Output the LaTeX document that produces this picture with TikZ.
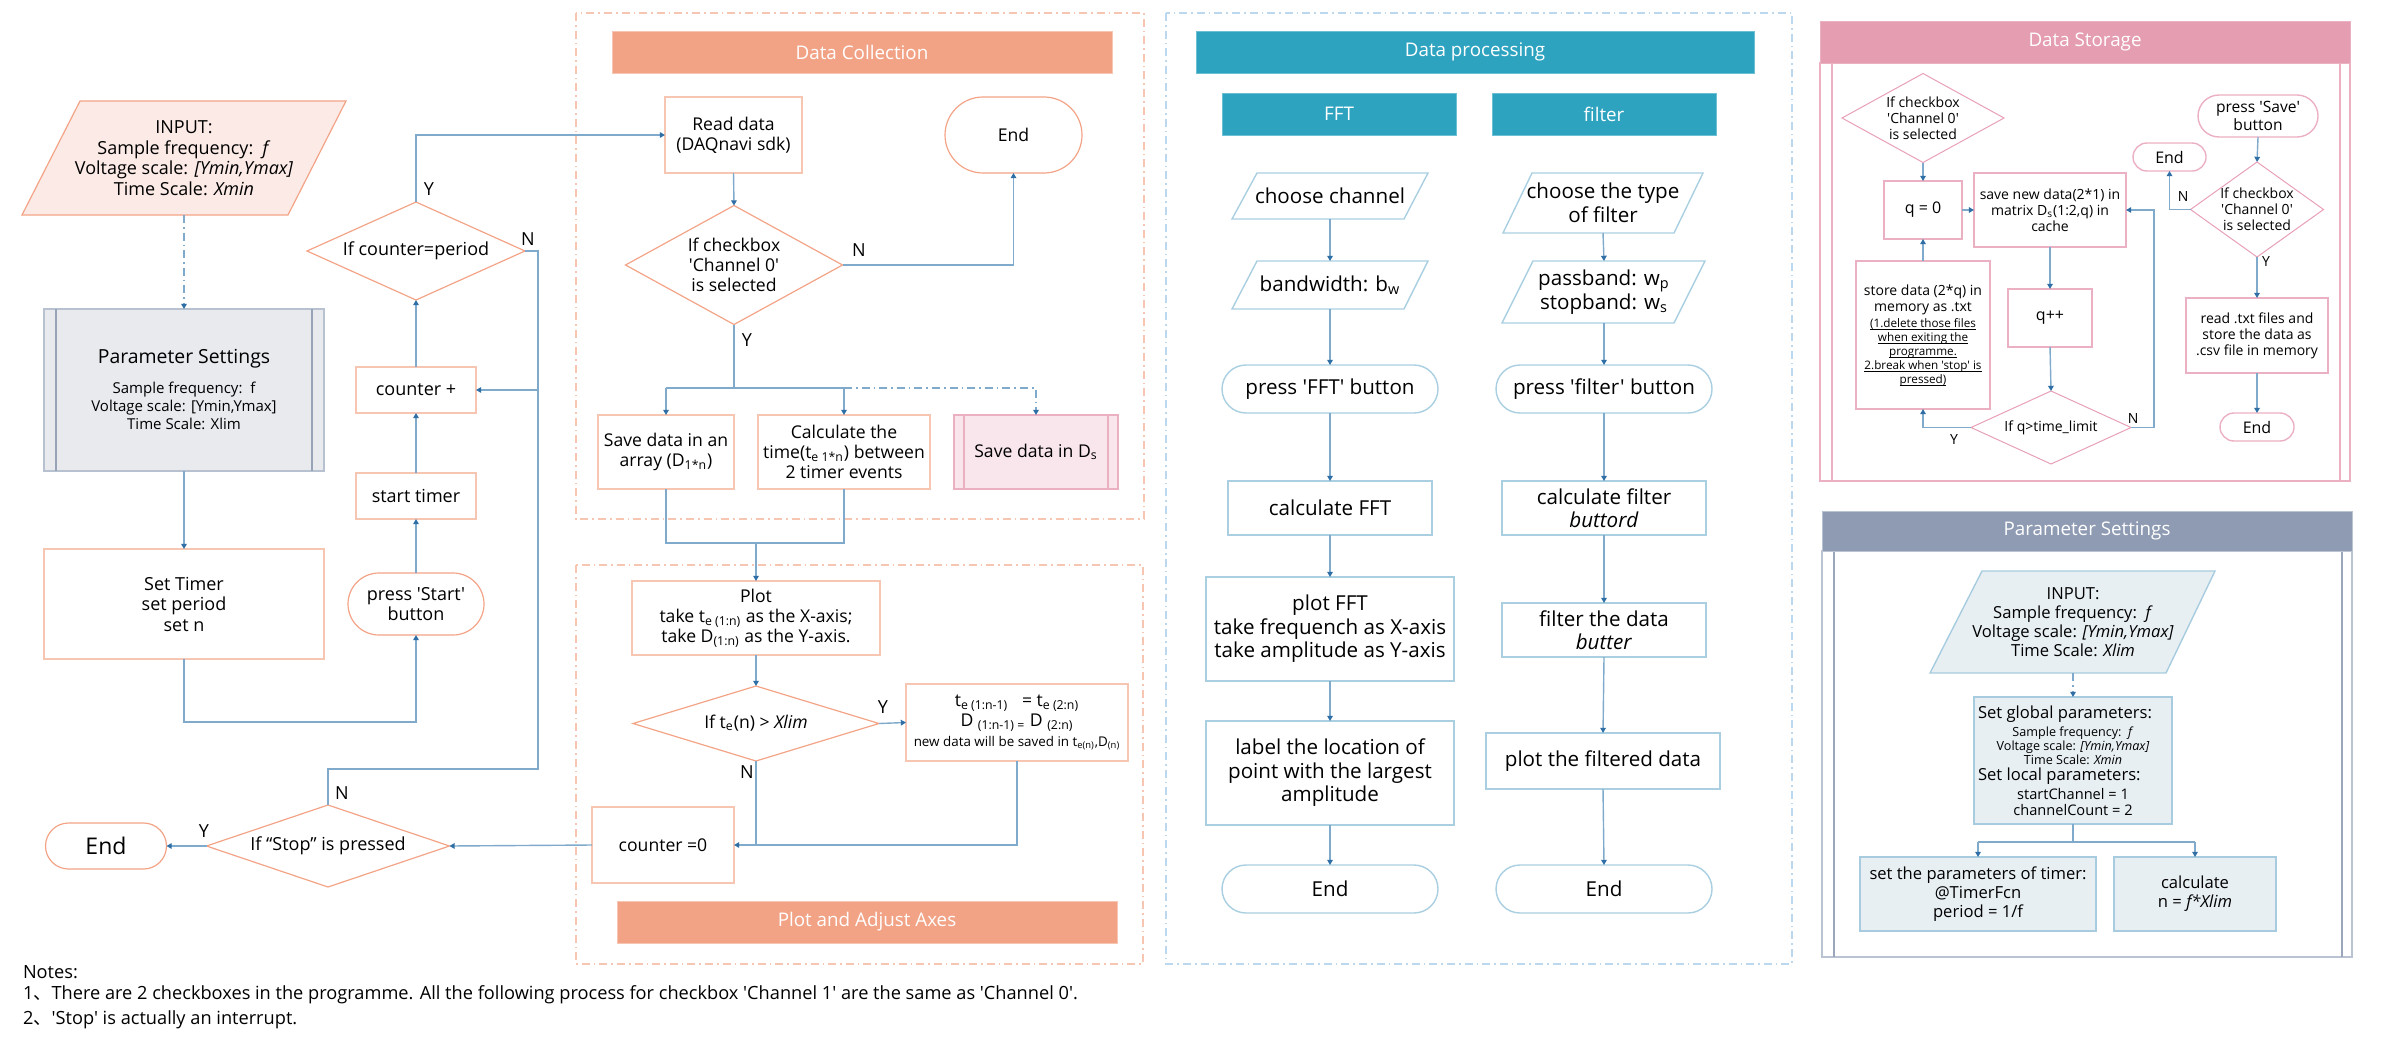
\documentclass[tikz,border=0pt]{standalone}
\usepackage{fontspec}
\setmainfont{Open Sans}[Ligatures=TeXOff]
\newfontfamily\cjk{Noto Sans CJK SC}
\usetikzlibrary{shapes.geometric,shapes.misc,arrows.meta,calc}
\definecolor{cl}{HTML}{7FAACB}
\definecolor{ca}{HTML}{2F6FA6}
\definecolor{pk}{HTML}{F6C6B3}
\definecolor{pkd}{HTML}{F3A487}
\definecolor{pkf}{HTML}{FBEAE5}
\definecolor{dcH}{HTML}{F2A386}
\definecolor{gyf}{HTML}{E8EAEE}
\definecolor{gyb}{HTML}{B8C1CF}
\definecolor{gyl}{HTML}{97A4B8}
\definecolor{blH}{HTML}{2EA3C0}
\definecolor{blHb}{HTML}{6DBFD4}
\definecolor{blb}{HTML}{A9CFE1}
\definecolor{blfr}{HTML}{BBD8EE}
\definecolor{dsH}{HTML}{E59DB1}
\definecolor{dsb}{HTML}{ECB0C3}
\definecolor{dsd}{HTML}{E8A0B6}
\definecolor{dsf}{HTML}{F9E6EC}
\definecolor{rpH}{HTML}{8E9BB3}
\definecolor{rpb}{HTML}{BAC3D1}
\definecolor{rpl}{HTML}{9AA6BA}
\definecolor{rpf}{HTML}{E7EFF3}
\definecolor{rpbd}{HTML}{A7CCDF}
\newcommand{\fA}{\fontsize{9}{10.25}\selectfont}
\newcommand{\fEnd}{\fontsize{11.5}{13}\selectfont}
\newcommand{\fDC}{\fontsize{8.8}{10}\selectfont}
\newcommand{\fTs}{\fontsize{6.7}{8}\selectfont}
\newcommand{\fDP}{\fontsize{10.3}{11.75}\selectfont}
\newcommand{\fDS}{\fontsize{7}{8}\selectfont}
\newcommand{\fDSs}{\fontsize{5.85}{7}\selectfont\lineskiplimit=-20pt\relax}
\newcommand{\fPS}{\fontsize{8.3}{9.4}\selectfont}
\newcommand{\fPSm}{\fontsize{7.3}{8}\selectfont}
\newcommand{\fPSs}{\fontsize{6.3}{7}\selectfont}
\newcommand{\fSm}{\fontsize{7.5}{9}\selectfont}
\newcommand{\fH}{\fontsize{9.4}{11}\selectfont}
\newcommand{\fN}{\fontsize{9.1}{11}\selectfont}
\newcommand{\ulin}[1]{\setbox0\hbox{#1}\rlap{\rule[-1.1pt]{\wd0}{0.3pt}}\box0}
\tikzset{
  sz/.style 2 args={minimum width=#1*0.5pt,minimum height=#2*0.5pt},
  conn/.style={draw=cl,line width=0.7pt},
  arr/.style={conn,-{Triangle[length=2.6pt,width=2.8pt,color=ca]}},
  dd/.style={dash pattern=on 4pt off 2pt on 0.8pt off 2pt},
  txt/.style={inner sep=0pt,outer sep=0pt,align=center,text=black},
  pbox/.style={rectangle,draw=pk,line width=0.85pt,fill=white,inner sep=0pt,outer sep=0pt,align=center},
  pround/.style={rounded rectangle,draw=pkd,line width=0.6pt,fill=white,inner sep=0pt,outer sep=0pt,align=center},
  dia/.style={diamond,draw=pkd,line width=0.6pt,fill=white,inner sep=0pt,outer sep=0pt},
  hdr/.style={rectangle,inner sep=0pt,outer sep=0pt,text=white,font=\fH},
  dpbox/.style={rectangle,draw=blb,line width=0.7pt,fill=white,inner sep=0pt,outer sep=0pt,align=center,font=\fDP},
  dpround/.style={rounded rectangle,draw=blb,line width=0.7pt,fill=white,inner sep=0pt,outer sep=0pt,align=center,font=\fDP},
  dsbox/.style={rectangle,draw=dsb,line width=0.7pt,fill=white,inner sep=0pt,outer sep=0pt,align=center,font=\fDS},
  dsround/.style={rounded rectangle,draw=dsb,line width=0.7pt,fill=white,inner sep=0pt,outer sep=0pt,align=center,font=\fDS},
  dsdia/.style={diamond,draw=dsd,line width=0.5pt,fill=white,inner sep=0pt,outer sep=0pt},
  rpbox/.style={rectangle,draw=rpbd,line width=0.7pt,fill=rpf,inner sep=0pt,outer sep=0pt,align=center,font=\fPS},
  lab/.style={txt,font=\fA},
  labs/.style={txt,font=\fDS},
}
\begin{document}
\begin{tikzpicture}[x=0.5pt,y=-0.5pt]
\useasboundingbox (0,0) rectangle (2385,1038);
% ---------- frames ----------
\draw[pk,dd,line width=0.8pt] (576,13) rectangle (1144,519);
\draw[pk,dd,line width=0.8pt] (576,565) rectangle (1143,964);
\draw[blfr,dd,line width=0.8pt] (1166,13) rectangle (1792,964);
\draw[dsb,line width=0.9pt] (1820,63) rectangle (2350,481);
\draw[dsb,line width=0.9pt] (1832,63) -- (1832,481) (2340,63) -- (2340,481);
\draw[rpb,line width=0.9pt] (1822,551) rectangle (2352,957);
\draw[rpl,line width=0.9pt] (1834,551) -- (1834,957) (2342,551) -- (2342,957);
% ---------- headers ----------
\node[hdr,fill=dcH,draw=pk,sz={500}{42}] (hdc) at (862,52) {Data Collection};
\node[hdr,fill=dcH,draw=pk,sz={500}{42}] (hpa) at (867,922) {Plot and Adjust Axes};
\node[hdr,fill=blH,draw=blHb,sz={558}{42}] (hdp) at (1475,52) {Data processing};
\node[hdr,fill=blH,draw=blHb,sz={234}{42}] (hfft) at (1339,114) {FFT};
\node[hdr,fill=blH,draw=blHb,sz={224}{42}] (hfil) at (1604,114) {filter};
\node[hdr,fill=dsH,draw=dsb,sz={530}{42}] (hds) at (2085,42) {Data Storage};
\node[hdr,fill=rpH,draw=rpb,sz={530}{40}] (hrp) at (2087,531) {Parameter Settings};
% ---------- left column ----------
\filldraw[fill=pkf,draw=pkd,line width=0.6pt] (80,101) -- (346,101) -- (288,215) -- (22,215) -- cycle;
\node[txt,font=\fA,sz={200}{114}] (in1) at (184,158) {INPUT:\\Sample frequency:\ \ \textit{f}\\Voltage scale: \textit{[Ymin,Ymax]}\\Time Scale: \textit{Xmin}};
\node[rectangle,draw=gyb,fill=gyf,line width=0.9pt,inner sep=0pt,outer sep=0pt,sz={280}{162}] (ps1) at (184,390) {};
\draw[gyl,line width=0.9pt] ($(ps1.north west)+(12,0)$) -- ($(ps1.south west)+(12,0)$);
\draw[gyl,line width=0.9pt] ($(ps1.north east)+(-12,0)$) -- ($(ps1.south east)+(-12,0)$);
\node[txt,font=\fontsize{9.7}{11}\selectfont] (ps1t) at (184,359) {Parameter Settings};
\node[txt,font=\fSm] (ps1s) at (184,406) {Sample frequency:\ \ f\\Voltage scale: [Ymin,Ymax]\\Time Scale: Xlim};
\node[pbox,sz={280}{110},font=\fA] (st) at (184,604) {Set Timer\\set period\\set n};
\node[pround,sz={136}{62},font=\fA] (pstart) at (416,604) {press 'Start'\\button};
\node[pbox,sz={120}{46},font=\fA] (stimer) at (416,496) {start timer};
\node[pbox,sz={120}{46},font=\fA] (cplus) at (416,390) {counter +};
\node[dia,sz={218}{98}] (dcp) at (416,251) {};
\node[txt,font=\fA] (dcpt) at (dcp) {If counter=period};
\node[dia,sz={243}{82}] (dstop) at (328,846) {};
\node[txt,font=\fA] (dstopt) at (dstop) {If “Stop” is pressed};
\node[pround,sz={121}{46},font=\fEnd] (end1) at (106,846) {End};
% ---------- data collection ----------
\node[pbox,sz={137}{76},font=\fDC] (rd) at (733.5,135) {Read data\\(DAQnavi sdk)};
\node[pround,sz={137}{76},font=\fDC] (enddc) at (1013.5,135) {End};
\node[dia,sz={217}{119}] (dck) at (734,265) {};
\node[txt,font=\fDC] (dckt) at (dck) {If checkbox\\'Channel 0'\\is selected};
\node[pbox,sz={136}{74},font=\fDC] (sd) at (666,452) {Save data in an\\array (D\textsubscript{1*n})};
\node[pbox,sz={172}{74},font=\fDC] (ct) at (844,452) {Calculate the\\time(t\textsubscript{e 1*n}) between\\2 timer events};
\node[rectangle,draw=dsb,fill=dsf,line width=0.85pt,inner sep=0pt,outer sep=0pt,sz={164}{74},font=\fDC] (sds) at (1036,452) {Save data in D\textsubscript{s}};
\draw[dsb,line width=0.85pt] ($(sds.north west)+(10,0)$) -- ($(sds.south west)+(10,0)$);
\draw[dsb,line width=0.85pt] ($(sds.north east)+(-10,0)$) -- ($(sds.south east)+(-10,0)$);
% ---------- plot ----------
\node[pbox,sz={248}{74},font=\fDC] (pl) at (756,618) {Plot\\take t\textsubscript{e (1:n)} as the X-axis;\\take D\textsubscript{(1:n)} as the Y-axis.};
\node[dia,sz={246}{75}] (dx) at (756,723.5) {};
\node[txt,font=\fDC] (dxt) at (dx) {If t\textsubscript{e}(n) > \textit{Xlim}};
\node[pbox,sz={222}{77},font=\fDC] (te) at (1017,722.5) {t\textsubscript{e (1:n-1)}\ \ \ = t\textsubscript{e (2:n)}\\D \textsubscript{(1:n-1) =} D \textsubscript{(2:n)}\\{\fTs new data will be saved in t\textsubscript{e(n)},D\textsubscript{(n)}}};
\node[pbox,sz={142}{76},font=\fDC] (cz) at (663,845) {counter =0};
% ---------- data processing ----------
\draw[blb,line width=0.7pt] (1257,173) -- (1428,173) -- (1404,219) -- (1232,219) -- cycle;
\node[txt,font=\fDP,sz={150}{46}] (cc) at (1330,196) {choose channel};
\draw[blb,line width=0.7pt] (1257,261) -- (1428,261) -- (1404,309) -- (1232,309) -- cycle;
\node[txt,font=\fDP,sz={150}{48}] (bw) at (1330,285) {bandwidth: b\textsubscript{w}};
\node[dpround,sz={216}{48}] (pfft) at (1330,389) {press 'FFT' button};
\node[dpbox,sz={204}{54}] (cfft) at (1330,508) {calculate FFT};
\node[dpbox,sz={248}{104}] (plfft) at (1330,629) {plot FFT\\take frequench as X-axis\\take amplitude as Y-axis};
\node[dpbox,sz={248}{104}] (labl) at (1330,773) {label the location of\\point with the largest\\amplitude};
\node[dpround,sz={216}{48}] (end2) at (1330,889) {End};
\draw[blb,line width=0.7pt] (1532,173) -- (1703,173) -- (1674,233) -- (1503,233) -- cycle;
\node[txt,font=\fDP,sz={160}{60}] (ctf) at (1603,203) {choose the type\\of filter};
\draw[blb,line width=0.7pt] (1533,261) -- (1705,261) -- (1674,323) -- (1502,323) -- cycle;
\node[txt,font=\fDP,sz={160}{62}] (pb) at (1604,292) {passband: w\textsubscript{p}\\stopband: w\textsubscript{s}};
\node[dpround,sz={216}{48}] (pfil) at (1604,389) {press 'filter' button};
\node[dpbox,sz={204}{54}] (cfil) at (1604,508) {calculate filter\\\textit{buttord}};
\node[dpbox,sz={204}{54}] (fd) at (1604,630) {filter the data\\\textit{butter}};
\node[dpbox,sz={234}{56}] (pfd) at (1603,761) {plot the filtered data};
\node[dpround,sz={216}{48}] (end3) at (1604,889) {End};
% ---------- data storage ----------
\node[dsdia,sz={162}{89}] (dck2) at (1923,118) {};
\node[txt,font=\fDS] (dck2t) at (dck2) {If checkbox\\'Channel 0'\\is selected};
\node[dsbox,sz={78}{58},font=\fontsize{8}{9}\selectfont] (q0) at (1923,210) {q = 0};
\node[dsbox,sz={152}{74}] (sv) at (2050,210) {save new data(2*1) in\\matrix D\textsubscript{s}(1:2,q) in\\cache};
\node[dsbox,sz={84}{58},font=\fontsize{8}{9}\selectfont] (qpp) at (2050,318) {q++};
\node[dsdia,sz={160}{73}] (dtl) at (2051,427.5) {};
\node[txt,font=\fDS] (dtlt) at (dtl) {If q>time\_limit};
\node[dsbox,sz={134}{148}] (stor) at (1923,335) {};
\node[txt,font=\fDS] (stor1) at (1923,300) {store data (2*q) in\\memory as .txt};
\node[txt,font=\fDSs] (stor2) at (1923,352) {\ulin{(1.delete those files}\\\ulin{when exiting the}\\\ulin{programme.}\\\ulin{2.break when 'stop' is}\\\ulin{pressed)}};
\node[dsround,sz={73}{28},font=\fontsize{8}{9}\selectfont] (enda) at (2169.5,157) {End};
\node[dsround,sz={120}{42},font=\fontsize{7.8}{9}\selectfont] (psave) at (2258,116) {press 'Save'\\button};
\node[dsdia,sz={133}{95}] (dck3) at (2257,209.5) {};
\node[txt,font=\fDS] (dck3t) at (dck3) {If checkbox\\'Channel 0'\\is selected};
\node[dsbox,sz={142}{75}] (rdt) at (2257,335.5) {read .txt files and\\store the data as\\.csv file in memory};
\node[dsround,sz={74}{28},font=\fontsize{8}{9}\selectfont] (endb) at (2257,427) {End};
% ---------- right parameter settings ----------
\filldraw[fill=rpf,draw=rpbd,line width=0.7pt] (1982,571) -- (2215,571) -- (2166,673) -- (1930,673) -- cycle;
\node[txt,font=\fPS,sz={200}{102}] (in2) at (2073,622) {INPUT:\\Sample frequency:\ \ \textit{f}\\Voltage scale: \textit{[Ymin,Ymax]}\\Time Scale: \textit{Xlim}};
\node[rpbox,sz={198}{127}] (sg) at (2073,760.5) {};
\node[txt,font=\fPS,anchor=west] (sg1) at (1978,714) {Set global parameters:};
\node[txt,font=\fPSs] (sg2) at (2073,746) {Sample frequency:\ \ \textit{f}\\Voltage scale: \textit{[Ymin,Ymax]}\\Time Scale: \textit{Xmin}};
\node[txt,font=\fPS,anchor=west] (sg3) at (1978,776) {Set local parameters:};
\node[txt,font=\fPSm] (sg4) at (2073,802) {startChannel = 1\\channelCount = 2};
\node[rpbox,sz={236}{74}] (tm) at (1978,894) {set the parameters of timer:\\@TimerFcn\\period = 1/f};
\node[rpbox,sz={162}{74}] (calc) at (2195,894) {calculate\\n = \textit{f*Xlim}};
% ---------- connectors: left ----------
\draw[arr,dd] (in1.south) -- (ps1.north);
\draw[arr] (ps1.south) -- (st.north);
\draw[arr] (st.south) -- (184,722) -- (416,722) -- (pstart.south);
\draw[arr] (pstart.north) -- (stimer.south);
\draw[arr] (stimer.north) -- (cplus.south);
\draw[arr] (cplus.north) -- (dcp.south);
\draw[arr] (dcp.north) -- (416,135) -- (rd.west);
\draw[conn] (dcp.east) -- (538,251) -- (538,769) -- (328,769) -- (dstop.north);
\draw[arr] (538,390) -- (cplus.east);
\draw[arr] (dstop.west) -- (end1.east);
\draw[arr] (cz.west) -- (dstop.east);
% ---------- connectors: data collection ----------
\draw[arr] (rd.south) -- (dck.north);
\draw[arr] (dck.east) -- (1013.5,265) -- (enddc.south);
\draw[conn] (dck.south) -- (734,388);
\draw[conn] (666,388) -- (844,388);
\draw[arr] (666,388) -- (sd.north);
\draw[arr] (844,388) -- (ct.north);
\draw[arr,dd] (844,388) -- (1036,388) -- (sds.north);
\draw[conn] (sd.south) -- (666,543) -- (844,543) -- (ct.south);
\draw[arr] (756,543) -- (pl.north);
\draw[arr] (pl.south) -- (dx.north);
\draw[arr] (dx.east) -- (te.west);
\draw[arr] (dx.south) -- (756,845) -- (cz.east);
\draw[conn] (te.south) -- (1017,845) -- (756,845);
% ---------- connectors: data processing ----------
\draw[arr] (cc.south) -- (bw.north);
\draw[arr] (bw.south) -- (pfft.north);
\draw[arr] (pfft.south) -- (cfft.north);
\draw[arr] (cfft.south) -- (plfft.north);
\draw[arr] (plfft.south) -- (labl.north);
\draw[arr] (labl.south) -- (end2.north);
\draw[arr] (ctf.south) -- (pb.north);
\draw[arr] (pb.south) -- (pfil.north);
\draw[arr] (pfil.south) -- (cfil.north);
\draw[arr] (cfil.south) -- (fd.north);
\draw[arr] (fd.south) -- (pfd.north);
\draw[arr] (pfd.south) -- (end3.north);
% ---------- connectors: data storage ----------
\draw[arr] (dck2.south) -- (q0.north);
\draw[arr] (q0.east) -- (sv.west);
\draw[arr] (sv.south) -- (qpp.north);
\draw[arr] (qpp.south) -- (dtl.north);
\draw[arr] (dtl.east) -- (2154,427.5) -- (2154,210) -- (sv.east);
\draw[arr] (dtl.west) -- (1923,427.5) -- (stor.south);
\draw[arr] (stor.north) -- (q0.south);
\draw[arr] (psave.south) -- (dck3.north);
\draw[arr] (dck3.west) -- (2169.5,209.5) -- (enda.south);
\draw[arr] (dck3.south) -- (rdt.north);
\draw[arr] (rdt.south) -- (endb.north);
% ---------- connectors: right parameter settings ----------
\draw[arr,dd] (in2.south) -- (sg.north);
\draw[conn] (sg.south) -- (2073,842);
\draw[conn] (1978,842) -- (2195,842);
\draw[arr] (1978,842) -- (tm.north);
\draw[arr] (2195,842) -- (calc.north);
% ---------- Y / N labels ----------
\node[lab] (y1) at (429,189) {Y};
\node[lab] (n1) at (528,239) {N};
\node[lab] (n2) at (342,793) {N};
\node[lab] (y2) at (204,831) {Y};
\node[lab] (n3) at (859,250) {N};
\node[lab] (y3) at (747,340) {Y};
\node[lab] (y4) at (883,707) {Y};
\node[lab] (n4) at (747,772) {N};
\node[labs] (n5) at (2133,418) {N};
\node[labs] (y5) at (1954,439) {Y};
\node[labs] (n6) at (2183,197) {N};
\node[labs] (y6) at (2266,262) {Y};
% ---------- notes ----------
\node[txt,font=\fN,anchor=west] (nt0) at (23,972) {Notes:};
\node[txt,font=\fN,anchor=west] (nt1) at (23,995) {1{\cjk 、}There are 2 checkboxes in the programme. All the following process for checkbox 'Channel 1' are the same as 'Channel 0'.};
\node[txt,font=\fN,anchor=west] (nt2) at (23,1020) {2{\cjk 、}'Stop' is actually an interrupt.};
\end{tikzpicture}
\end{document}
